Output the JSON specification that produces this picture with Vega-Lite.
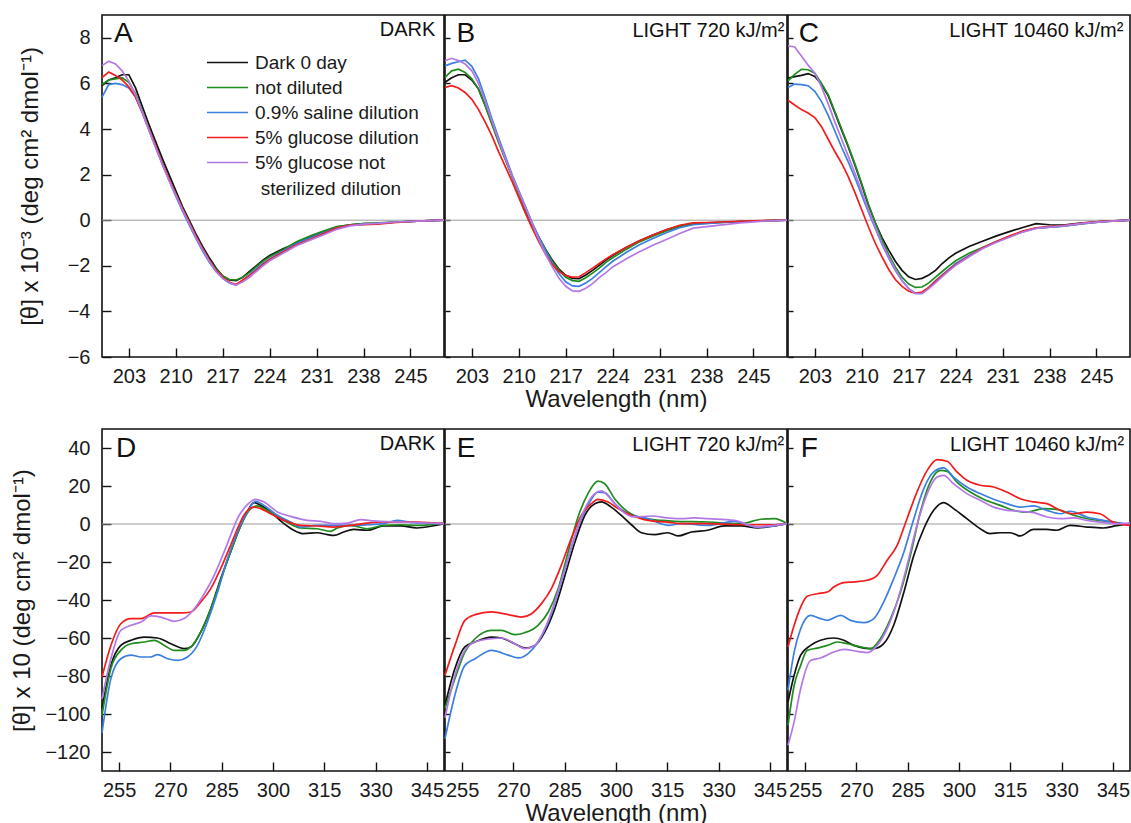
{
"$schema": "https://vega.github.io/schema/vega-lite/v6.json",
"background": "white",
"padding": {"left": 10, "top": 14, "right": 2, "bottom": 0},
"config": {
  "font": "Liberation Sans",
  "view": {"stroke": "#111111", "strokeWidth": 1.6},
  "axis": {"grid": false, "domain": false, "labelFont": "Liberation Sans", "labelFontSize": 20, "labelColor": "#1a1a1a", "tickColor": "#111111", "tickWidth": 1.4, "tickSize": -9, "titleFont": "Liberation Sans", "titleFontSize": 24, "titleFontWeight": "normal", "titleColor": "#1a1a1a", "labelOverlap": false, "labelFlush": false, "labelBound": false},
  "axisX": {"labelPadding": 18, "titlePadding": 1},
  "axisY": {"labelPadding": 21},
  "line": {"strokeWidth": 1.7, "clip": true},
  "text": {"font": "Liberation Sans", "color": "#111111"}
},
"datasets": {
"top": [
{"p":"A","s":"dark","nm":199,"v":5.9},{"p":"A","s":"dark","nm":200,"v":6.15},{"p":"A","s":"dark","nm":201,"v":6.25},{"p":"A","s":"dark","nm":202,"v":6.38},{"p":"A","s":"dark","nm":203,"v":6.38},{"p":"A","s":"dark","nm":204,"v":5.8},{"p":"A","s":"dark","nm":205,"v":5.0},{"p":"A","s":"dark","nm":206,"v":4.2},{"p":"A","s":"dark","nm":207,"v":3.45},{"p":"A","s":"dark","nm":208,"v":2.7},{"p":"A","s":"dark","nm":209,"v":2.0},{"p":"A","s":"dark","nm":210,"v":1.3},{"p":"A","s":"dark","nm":211,"v":0.6},{"p":"A","s":"dark","nm":212,"v":0.0},{"p":"A","s":"dark","nm":213,"v":-0.6},{"p":"A","s":"dark","nm":214,"v":-1.15},{"p":"A","s":"dark","nm":215,"v":-1.65},{"p":"A","s":"dark","nm":216,"v":-2.1},{"p":"A","s":"dark","nm":217,"v":-2.45},{"p":"A","s":"dark","nm":218,"v":-2.62},{"p":"A","s":"dark","nm":219,"v":-2.65},{"p":"A","s":"dark","nm":220,"v":-2.5},{"p":"A","s":"dark","nm":221,"v":-2.25},{"p":"A","s":"dark","nm":222,"v":-2.0},{"p":"A","s":"dark","nm":223,"v":-1.75},{"p":"A","s":"dark","nm":224,"v":-1.55},{"p":"A","s":"dark","nm":226,"v":-1.25},{"p":"A","s":"dark","nm":228,"v":-1.0},{"p":"A","s":"dark","nm":230,"v":-0.75},{"p":"A","s":"dark","nm":232,"v":-0.52},{"p":"A","s":"dark","nm":234,"v":-0.3},{"p":"A","s":"dark","nm":236,"v":-0.2},{"p":"A","s":"dark","nm":238,"v":-0.15},{"p":"A","s":"dark","nm":240,"v":-0.14},{"p":"A","s":"dark","nm":243,"v":-0.08},{"p":"A","s":"dark","nm":246,"v":-0.04},{"p":"A","s":"dark","nm":250,"v":0},
{"p":"A","s":"nd","nm":199,"v":5.95},{"p":"A","s":"nd","nm":200,"v":6.15},{"p":"A","s":"nd","nm":201,"v":6.2},{"p":"A","s":"nd","nm":202,"v":6.25},{"p":"A","s":"nd","nm":203,"v":6.05},{"p":"A","s":"nd","nm":204,"v":5.55},{"p":"A","s":"nd","nm":205,"v":4.8},{"p":"A","s":"nd","nm":206,"v":4.0},{"p":"A","s":"nd","nm":207,"v":3.25},{"p":"A","s":"nd","nm":208,"v":2.5},{"p":"A","s":"nd","nm":209,"v":1.8},{"p":"A","s":"nd","nm":210,"v":1.15},{"p":"A","s":"nd","nm":211,"v":0.5},{"p":"A","s":"nd","nm":212,"v":-0.1},{"p":"A","s":"nd","nm":213,"v":-0.7},{"p":"A","s":"nd","nm":214,"v":-1.25},{"p":"A","s":"nd","nm":215,"v":-1.75},{"p":"A","s":"nd","nm":216,"v":-2.15},{"p":"A","s":"nd","nm":217,"v":-2.45},{"p":"A","s":"nd","nm":218,"v":-2.6},{"p":"A","s":"nd","nm":219,"v":-2.62},{"p":"A","s":"nd","nm":220,"v":-2.5},{"p":"A","s":"nd","nm":221,"v":-2.3},{"p":"A","s":"nd","nm":222,"v":-2.05},{"p":"A","s":"nd","nm":223,"v":-1.8},{"p":"A","s":"nd","nm":224,"v":-1.6},{"p":"A","s":"nd","nm":226,"v":-1.3},{"p":"A","s":"nd","nm":228,"v":-0.95},{"p":"A","s":"nd","nm":230,"v":-0.7},{"p":"A","s":"nd","nm":232,"v":-0.48},{"p":"A","s":"nd","nm":234,"v":-0.28},{"p":"A","s":"nd","nm":236,"v":-0.2},{"p":"A","s":"nd","nm":238,"v":-0.15},{"p":"A","s":"nd","nm":240,"v":-0.12},{"p":"A","s":"nd","nm":243,"v":-0.08},{"p":"A","s":"nd","nm":246,"v":-0.04},{"p":"A","s":"nd","nm":250,"v":0},
{"p":"A","s":"sal","nm":199,"v":5.4},{"p":"A","s":"sal","nm":200,"v":5.95},{"p":"A","s":"sal","nm":201,"v":6.0},{"p":"A","s":"sal","nm":202,"v":5.95},{"p":"A","s":"sal","nm":203,"v":5.8},{"p":"A","s":"sal","nm":204,"v":5.4},{"p":"A","s":"sal","nm":205,"v":4.7},{"p":"A","s":"sal","nm":206,"v":3.95},{"p":"A","s":"sal","nm":207,"v":3.2},{"p":"A","s":"sal","nm":208,"v":2.45},{"p":"A","s":"sal","nm":209,"v":1.75},{"p":"A","s":"sal","nm":210,"v":1.05},{"p":"A","s":"sal","nm":211,"v":0.4},{"p":"A","s":"sal","nm":212,"v":-0.2},{"p":"A","s":"sal","nm":213,"v":-0.8},{"p":"A","s":"sal","nm":214,"v":-1.35},{"p":"A","s":"sal","nm":215,"v":-1.85},{"p":"A","s":"sal","nm":216,"v":-2.25},{"p":"A","s":"sal","nm":217,"v":-2.55},{"p":"A","s":"sal","nm":218,"v":-2.75},{"p":"A","s":"sal","nm":219,"v":-2.85},{"p":"A","s":"sal","nm":220,"v":-2.65},{"p":"A","s":"sal","nm":221,"v":-2.4},{"p":"A","s":"sal","nm":222,"v":-2.15},{"p":"A","s":"sal","nm":223,"v":-1.9},{"p":"A","s":"sal","nm":224,"v":-1.7},{"p":"A","s":"sal","nm":226,"v":-1.35},{"p":"A","s":"sal","nm":228,"v":-1.02},{"p":"A","s":"sal","nm":230,"v":-0.78},{"p":"A","s":"sal","nm":232,"v":-0.55},{"p":"A","s":"sal","nm":234,"v":-0.35},{"p":"A","s":"sal","nm":236,"v":-0.22},{"p":"A","s":"sal","nm":238,"v":-0.18},{"p":"A","s":"sal","nm":240,"v":-0.15},{"p":"A","s":"sal","nm":243,"v":-0.08},{"p":"A","s":"sal","nm":246,"v":-0.04},{"p":"A","s":"sal","nm":250,"v":0},
{"p":"A","s":"glu","nm":199,"v":6.25},{"p":"A","s":"glu","nm":200,"v":6.5},{"p":"A","s":"glu","nm":201,"v":6.35},{"p":"A","s":"glu","nm":202,"v":6.15},{"p":"A","s":"glu","nm":203,"v":5.85},{"p":"A","s":"glu","nm":204,"v":5.4},{"p":"A","s":"glu","nm":205,"v":4.75},{"p":"A","s":"glu","nm":206,"v":4.0},{"p":"A","s":"glu","nm":207,"v":3.25},{"p":"A","s":"glu","nm":208,"v":2.5},{"p":"A","s":"glu","nm":209,"v":1.8},{"p":"A","s":"glu","nm":210,"v":1.15},{"p":"A","s":"glu","nm":211,"v":0.5},{"p":"A","s":"glu","nm":212,"v":-0.1},{"p":"A","s":"glu","nm":213,"v":-0.7},{"p":"A","s":"glu","nm":214,"v":-1.25},{"p":"A","s":"glu","nm":215,"v":-1.75},{"p":"A","s":"glu","nm":216,"v":-2.2},{"p":"A","s":"glu","nm":217,"v":-2.5},{"p":"A","s":"glu","nm":218,"v":-2.72},{"p":"A","s":"glu","nm":219,"v":-2.82},{"p":"A","s":"glu","nm":220,"v":-2.62},{"p":"A","s":"glu","nm":221,"v":-2.42},{"p":"A","s":"glu","nm":222,"v":-2.2},{"p":"A","s":"glu","nm":223,"v":-1.95},{"p":"A","s":"glu","nm":224,"v":-1.72},{"p":"A","s":"glu","nm":226,"v":-1.4},{"p":"A","s":"glu","nm":228,"v":-1.08},{"p":"A","s":"glu","nm":230,"v":-0.85},{"p":"A","s":"glu","nm":232,"v":-0.6},{"p":"A","s":"glu","nm":234,"v":-0.35},{"p":"A","s":"glu","nm":236,"v":-0.22},{"p":"A","s":"glu","nm":238,"v":-0.2},{"p":"A","s":"glu","nm":240,"v":-0.17},{"p":"A","s":"glu","nm":243,"v":-0.1},{"p":"A","s":"glu","nm":246,"v":-0.04},{"p":"A","s":"glu","nm":250,"v":0},
{"p":"A","s":"gns","nm":199,"v":6.78},{"p":"A","s":"gns","nm":200,"v":6.97},{"p":"A","s":"gns","nm":201,"v":6.85},{"p":"A","s":"gns","nm":202,"v":6.55},{"p":"A","s":"gns","nm":203,"v":6.1},{"p":"A","s":"gns","nm":204,"v":5.5},{"p":"A","s":"gns","nm":205,"v":4.75},{"p":"A","s":"gns","nm":206,"v":3.95},{"p":"A","s":"gns","nm":207,"v":3.2},{"p":"A","s":"gns","nm":208,"v":2.45},{"p":"A","s":"gns","nm":209,"v":1.75},{"p":"A","s":"gns","nm":210,"v":1.1},{"p":"A","s":"gns","nm":211,"v":0.45},{"p":"A","s":"gns","nm":212,"v":-0.15},{"p":"A","s":"gns","nm":213,"v":-0.75},{"p":"A","s":"gns","nm":214,"v":-1.3},{"p":"A","s":"gns","nm":215,"v":-1.8},{"p":"A","s":"gns","nm":216,"v":-2.25},{"p":"A","s":"gns","nm":217,"v":-2.55},{"p":"A","s":"gns","nm":218,"v":-2.75},{"p":"A","s":"gns","nm":219,"v":-2.85},{"p":"A","s":"gns","nm":220,"v":-2.7},{"p":"A","s":"gns","nm":221,"v":-2.5},{"p":"A","s":"gns","nm":222,"v":-2.25},{"p":"A","s":"gns","nm":223,"v":-2.0},{"p":"A","s":"gns","nm":224,"v":-1.78},{"p":"A","s":"gns","nm":226,"v":-1.45},{"p":"A","s":"gns","nm":228,"v":-1.12},{"p":"A","s":"gns","nm":230,"v":-0.88},{"p":"A","s":"gns","nm":232,"v":-0.65},{"p":"A","s":"gns","nm":234,"v":-0.4},{"p":"A","s":"gns","nm":236,"v":-0.25},{"p":"A","s":"gns","nm":238,"v":-0.17},{"p":"A","s":"gns","nm":240,"v":-0.14},{"p":"A","s":"gns","nm":243,"v":-0.08},{"p":"A","s":"gns","nm":246,"v":-0.04},{"p":"A","s":"gns","nm":250,"v":0},
{"p":"B","s":"dark","nm":199,"v":6.05},{"p":"B","s":"dark","nm":200,"v":6.25},{"p":"B","s":"dark","nm":201,"v":6.38},{"p":"B","s":"dark","nm":202,"v":6.38},{"p":"B","s":"dark","nm":203,"v":6.15},{"p":"B","s":"dark","nm":204,"v":5.75},{"p":"B","s":"dark","nm":205,"v":5.05},{"p":"B","s":"dark","nm":206,"v":4.25},{"p":"B","s":"dark","nm":207,"v":3.45},{"p":"B","s":"dark","nm":208,"v":2.7},{"p":"B","s":"dark","nm":209,"v":1.95},{"p":"B","s":"dark","nm":210,"v":1.2},{"p":"B","s":"dark","nm":211,"v":0.45},{"p":"B","s":"dark","nm":212,"v":-0.2},{"p":"B","s":"dark","nm":213,"v":-0.75},{"p":"B","s":"dark","nm":214,"v":-1.28},{"p":"B","s":"dark","nm":215,"v":-1.75},{"p":"B","s":"dark","nm":216,"v":-2.15},{"p":"B","s":"dark","nm":217,"v":-2.42},{"p":"B","s":"dark","nm":218,"v":-2.55},{"p":"B","s":"dark","nm":219,"v":-2.56},{"p":"B","s":"dark","nm":220,"v":-2.4},{"p":"B","s":"dark","nm":221,"v":-2.2},{"p":"B","s":"dark","nm":222,"v":-1.98},{"p":"B","s":"dark","nm":223,"v":-1.75},{"p":"B","s":"dark","nm":224,"v":-1.55},{"p":"B","s":"dark","nm":226,"v":-1.2},{"p":"B","s":"dark","nm":228,"v":-0.9},{"p":"B","s":"dark","nm":230,"v":-0.65},{"p":"B","s":"dark","nm":232,"v":-0.42},{"p":"B","s":"dark","nm":234,"v":-0.25},{"p":"B","s":"dark","nm":236,"v":-0.15},{"p":"B","s":"dark","nm":238,"v":-0.12},{"p":"B","s":"dark","nm":240,"v":-0.1},{"p":"B","s":"dark","nm":243,"v":-0.06},{"p":"B","s":"dark","nm":246,"v":-0.03},{"p":"B","s":"dark","nm":250,"v":0},
{"p":"B","s":"nd","nm":199,"v":6.26},{"p":"B","s":"nd","nm":200,"v":6.55},{"p":"B","s":"nd","nm":201,"v":6.62},{"p":"B","s":"nd","nm":202,"v":6.48},{"p":"B","s":"nd","nm":203,"v":6.2},{"p":"B","s":"nd","nm":204,"v":5.75},{"p":"B","s":"nd","nm":205,"v":5.0},{"p":"B","s":"nd","nm":206,"v":4.2},{"p":"B","s":"nd","nm":207,"v":3.4},{"p":"B","s":"nd","nm":208,"v":2.65},{"p":"B","s":"nd","nm":209,"v":1.9},{"p":"B","s":"nd","nm":210,"v":1.2},{"p":"B","s":"nd","nm":211,"v":0.5},{"p":"B","s":"nd","nm":212,"v":-0.15},{"p":"B","s":"nd","nm":213,"v":-0.75},{"p":"B","s":"nd","nm":214,"v":-1.3},{"p":"B","s":"nd","nm":215,"v":-1.8},{"p":"B","s":"nd","nm":216,"v":-2.2},{"p":"B","s":"nd","nm":217,"v":-2.5},{"p":"B","s":"nd","nm":218,"v":-2.65},{"p":"B","s":"nd","nm":219,"v":-2.68},{"p":"B","s":"nd","nm":220,"v":-2.52},{"p":"B","s":"nd","nm":221,"v":-2.32},{"p":"B","s":"nd","nm":222,"v":-2.1},{"p":"B","s":"nd","nm":223,"v":-1.85},{"p":"B","s":"nd","nm":224,"v":-1.65},{"p":"B","s":"nd","nm":226,"v":-1.28},{"p":"B","s":"nd","nm":228,"v":-0.95},{"p":"B","s":"nd","nm":230,"v":-0.7},{"p":"B","s":"nd","nm":232,"v":-0.47},{"p":"B","s":"nd","nm":234,"v":-0.28},{"p":"B","s":"nd","nm":236,"v":-0.17},{"p":"B","s":"nd","nm":238,"v":-0.13},{"p":"B","s":"nd","nm":240,"v":-0.1},{"p":"B","s":"nd","nm":243,"v":-0.06},{"p":"B","s":"nd","nm":246,"v":-0.03},{"p":"B","s":"nd","nm":250,"v":0},
{"p":"B","s":"sal","nm":199,"v":6.77},{"p":"B","s":"sal","nm":200,"v":6.88},{"p":"B","s":"sal","nm":201,"v":6.95},{"p":"B","s":"sal","nm":202,"v":7.02},{"p":"B","s":"sal","nm":203,"v":6.75},{"p":"B","s":"sal","nm":204,"v":6.2},{"p":"B","s":"sal","nm":205,"v":5.35},{"p":"B","s":"sal","nm":206,"v":4.45},{"p":"B","s":"sal","nm":207,"v":3.6},{"p":"B","s":"sal","nm":208,"v":2.8},{"p":"B","s":"sal","nm":209,"v":2.0},{"p":"B","s":"sal","nm":210,"v":1.3},{"p":"B","s":"sal","nm":211,"v":0.6},{"p":"B","s":"sal","nm":212,"v":-0.1},{"p":"B","s":"sal","nm":213,"v":-0.75},{"p":"B","s":"sal","nm":214,"v":-1.35},{"p":"B","s":"sal","nm":215,"v":-1.9},{"p":"B","s":"sal","nm":216,"v":-2.35},{"p":"B","s":"sal","nm":217,"v":-2.7},{"p":"B","s":"sal","nm":218,"v":-2.88},{"p":"B","s":"sal","nm":219,"v":-2.9},{"p":"B","s":"sal","nm":220,"v":-2.75},{"p":"B","s":"sal","nm":221,"v":-2.55},{"p":"B","s":"sal","nm":222,"v":-2.3},{"p":"B","s":"sal","nm":223,"v":-2.05},{"p":"B","s":"sal","nm":224,"v":-1.8},{"p":"B","s":"sal","nm":226,"v":-1.42},{"p":"B","s":"sal","nm":228,"v":-1.08},{"p":"B","s":"sal","nm":230,"v":-0.8},{"p":"B","s":"sal","nm":232,"v":-0.55},{"p":"B","s":"sal","nm":234,"v":-0.33},{"p":"B","s":"sal","nm":236,"v":-0.2},{"p":"B","s":"sal","nm":238,"v":-0.15},{"p":"B","s":"sal","nm":240,"v":-0.1},{"p":"B","s":"sal","nm":243,"v":-0.06},{"p":"B","s":"sal","nm":246,"v":-0.03},{"p":"B","s":"sal","nm":250,"v":0},
{"p":"B","s":"glu","nm":199,"v":5.82},{"p":"B","s":"glu","nm":200,"v":5.9},{"p":"B","s":"glu","nm":201,"v":5.8},{"p":"B","s":"glu","nm":202,"v":5.6},{"p":"B","s":"glu","nm":203,"v":5.3},{"p":"B","s":"glu","nm":204,"v":4.85},{"p":"B","s":"glu","nm":205,"v":4.3},{"p":"B","s":"glu","nm":206,"v":3.7},{"p":"B","s":"glu","nm":207,"v":3.0},{"p":"B","s":"glu","nm":208,"v":2.35},{"p":"B","s":"glu","nm":209,"v":1.7},{"p":"B","s":"glu","nm":210,"v":1.0},{"p":"B","s":"glu","nm":211,"v":0.3},{"p":"B","s":"glu","nm":212,"v":-0.35},{"p":"B","s":"glu","nm":213,"v":-0.95},{"p":"B","s":"glu","nm":214,"v":-1.5},{"p":"B","s":"glu","nm":215,"v":-1.95},{"p":"B","s":"glu","nm":216,"v":-2.25},{"p":"B","s":"glu","nm":217,"v":-2.42},{"p":"B","s":"glu","nm":218,"v":-2.5},{"p":"B","s":"glu","nm":219,"v":-2.48},{"p":"B","s":"glu","nm":220,"v":-2.3},{"p":"B","s":"glu","nm":221,"v":-2.1},{"p":"B","s":"glu","nm":222,"v":-1.9},{"p":"B","s":"glu","nm":223,"v":-1.7},{"p":"B","s":"glu","nm":224,"v":-1.52},{"p":"B","s":"glu","nm":226,"v":-1.2},{"p":"B","s":"glu","nm":228,"v":-0.9},{"p":"B","s":"glu","nm":230,"v":-0.65},{"p":"B","s":"glu","nm":232,"v":-0.42},{"p":"B","s":"glu","nm":234,"v":-0.22},{"p":"B","s":"glu","nm":236,"v":-0.12},{"p":"B","s":"glu","nm":238,"v":-0.1},{"p":"B","s":"glu","nm":240,"v":-0.08},{"p":"B","s":"glu","nm":243,"v":-0.05},{"p":"B","s":"glu","nm":246,"v":-0.02},{"p":"B","s":"glu","nm":250,"v":0},
{"p":"B","s":"gns","nm":199,"v":6.99},{"p":"B","s":"gns","nm":200,"v":7.1},{"p":"B","s":"gns","nm":201,"v":7.0},{"p":"B","s":"gns","nm":202,"v":6.85},{"p":"B","s":"gns","nm":203,"v":6.55},{"p":"B","s":"gns","nm":204,"v":6.0},{"p":"B","s":"gns","nm":205,"v":5.2},{"p":"B","s":"gns","nm":206,"v":4.35},{"p":"B","s":"gns","nm":207,"v":3.5},{"p":"B","s":"gns","nm":208,"v":2.7},{"p":"B","s":"gns","nm":209,"v":1.95},{"p":"B","s":"gns","nm":210,"v":1.25},{"p":"B","s":"gns","nm":211,"v":0.55},{"p":"B","s":"gns","nm":212,"v":-0.15},{"p":"B","s":"gns","nm":213,"v":-0.85},{"p":"B","s":"gns","nm":214,"v":-1.5},{"p":"B","s":"gns","nm":215,"v":-2.05},{"p":"B","s":"gns","nm":216,"v":-2.55},{"p":"B","s":"gns","nm":217,"v":-2.9},{"p":"B","s":"gns","nm":218,"v":-3.1},{"p":"B","s":"gns","nm":219,"v":-3.12},{"p":"B","s":"gns","nm":220,"v":-2.98},{"p":"B","s":"gns","nm":221,"v":-2.78},{"p":"B","s":"gns","nm":222,"v":-2.52},{"p":"B","s":"gns","nm":223,"v":-2.3},{"p":"B","s":"gns","nm":224,"v":-2.05},{"p":"B","s":"gns","nm":226,"v":-1.7},{"p":"B","s":"gns","nm":228,"v":-1.38},{"p":"B","s":"gns","nm":230,"v":-1.1},{"p":"B","s":"gns","nm":232,"v":-0.85},{"p":"B","s":"gns","nm":234,"v":-0.58},{"p":"B","s":"gns","nm":236,"v":-0.35},{"p":"B","s":"gns","nm":238,"v":-0.28},{"p":"B","s":"gns","nm":240,"v":-0.22},{"p":"B","s":"gns","nm":243,"v":-0.12},{"p":"B","s":"gns","nm":246,"v":-0.05},{"p":"B","s":"gns","nm":250,"v":0},
{"p":"C","s":"dark","nm":199,"v":6.23},{"p":"C","s":"dark","nm":200,"v":6.3},{"p":"C","s":"dark","nm":201,"v":6.35},{"p":"C","s":"dark","nm":202,"v":6.43},{"p":"C","s":"dark","nm":203,"v":6.3},{"p":"C","s":"dark","nm":204,"v":5.95},{"p":"C","s":"dark","nm":205,"v":5.45},{"p":"C","s":"dark","nm":206,"v":4.7},{"p":"C","s":"dark","nm":207,"v":3.95},{"p":"C","s":"dark","nm":208,"v":3.2},{"p":"C","s":"dark","nm":209,"v":2.4},{"p":"C","s":"dark","nm":210,"v":1.55},{"p":"C","s":"dark","nm":211,"v":0.65},{"p":"C","s":"dark","nm":212,"v":-0.1},{"p":"C","s":"dark","nm":213,"v":-0.75},{"p":"C","s":"dark","nm":214,"v":-1.3},{"p":"C","s":"dark","nm":215,"v":-1.8},{"p":"C","s":"dark","nm":216,"v":-2.2},{"p":"C","s":"dark","nm":217,"v":-2.48},{"p":"C","s":"dark","nm":218,"v":-2.6},{"p":"C","s":"dark","nm":219,"v":-2.55},{"p":"C","s":"dark","nm":220,"v":-2.4},{"p":"C","s":"dark","nm":221,"v":-2.2},{"p":"C","s":"dark","nm":222,"v":-1.9},{"p":"C","s":"dark","nm":223,"v":-1.65},{"p":"C","s":"dark","nm":224,"v":-1.45},{"p":"C","s":"dark","nm":226,"v":-1.15},{"p":"C","s":"dark","nm":228,"v":-0.92},{"p":"C","s":"dark","nm":230,"v":-0.7},{"p":"C","s":"dark","nm":232,"v":-0.5},{"p":"C","s":"dark","nm":234,"v":-0.32},{"p":"C","s":"dark","nm":236,"v":-0.15},{"p":"C","s":"dark","nm":238,"v":-0.2},{"p":"C","s":"dark","nm":240,"v":-0.22},{"p":"C","s":"dark","nm":243,"v":-0.12},{"p":"C","s":"dark","nm":246,"v":-0.05},{"p":"C","s":"dark","nm":250,"v":0},
{"p":"C","s":"nd","nm":199,"v":6.11},{"p":"C","s":"nd","nm":200,"v":6.4},{"p":"C","s":"nd","nm":201,"v":6.62},{"p":"C","s":"nd","nm":202,"v":6.6},{"p":"C","s":"nd","nm":203,"v":6.45},{"p":"C","s":"nd","nm":204,"v":6.0},{"p":"C","s":"nd","nm":205,"v":5.5},{"p":"C","s":"nd","nm":206,"v":4.75},{"p":"C","s":"nd","nm":207,"v":4.0},{"p":"C","s":"nd","nm":208,"v":3.25},{"p":"C","s":"nd","nm":209,"v":2.45},{"p":"C","s":"nd","nm":210,"v":1.6},{"p":"C","s":"nd","nm":211,"v":0.7},{"p":"C","s":"nd","nm":212,"v":-0.1},{"p":"C","s":"nd","nm":213,"v":-0.85},{"p":"C","s":"nd","nm":214,"v":-1.5},{"p":"C","s":"nd","nm":215,"v":-2.05},{"p":"C","s":"nd","nm":216,"v":-2.5},{"p":"C","s":"nd","nm":217,"v":-2.8},{"p":"C","s":"nd","nm":218,"v":-2.95},{"p":"C","s":"nd","nm":219,"v":-2.93},{"p":"C","s":"nd","nm":220,"v":-2.75},{"p":"C","s":"nd","nm":221,"v":-2.5},{"p":"C","s":"nd","nm":222,"v":-2.25},{"p":"C","s":"nd","nm":223,"v":-2.0},{"p":"C","s":"nd","nm":224,"v":-1.78},{"p":"C","s":"nd","nm":226,"v":-1.45},{"p":"C","s":"nd","nm":228,"v":-1.2},{"p":"C","s":"nd","nm":230,"v":-0.95},{"p":"C","s":"nd","nm":232,"v":-0.72},{"p":"C","s":"nd","nm":234,"v":-0.5},{"p":"C","s":"nd","nm":236,"v":-0.35},{"p":"C","s":"nd","nm":238,"v":-0.3},{"p":"C","s":"nd","nm":240,"v":-0.26},{"p":"C","s":"nd","nm":243,"v":-0.15},{"p":"C","s":"nd","nm":246,"v":-0.06},{"p":"C","s":"nd","nm":250,"v":0},
{"p":"C","s":"sal","nm":199,"v":5.82},{"p":"C","s":"sal","nm":200,"v":5.97},{"p":"C","s":"sal","nm":201,"v":5.95},{"p":"C","s":"sal","nm":202,"v":5.9},{"p":"C","s":"sal","nm":203,"v":5.65},{"p":"C","s":"sal","nm":204,"v":5.2},{"p":"C","s":"sal","nm":205,"v":4.6},{"p":"C","s":"sal","nm":206,"v":3.9},{"p":"C","s":"sal","nm":207,"v":3.2},{"p":"C","s":"sal","nm":208,"v":2.55},{"p":"C","s":"sal","nm":209,"v":1.85},{"p":"C","s":"sal","nm":210,"v":1.1},{"p":"C","s":"sal","nm":211,"v":0.35},{"p":"C","s":"sal","nm":212,"v":-0.35},{"p":"C","s":"sal","nm":213,"v":-1.05},{"p":"C","s":"sal","nm":214,"v":-1.65},{"p":"C","s":"sal","nm":215,"v":-2.2},{"p":"C","s":"sal","nm":216,"v":-2.65},{"p":"C","s":"sal","nm":217,"v":-3.0},{"p":"C","s":"sal","nm":218,"v":-3.2},{"p":"C","s":"sal","nm":219,"v":-3.18},{"p":"C","s":"sal","nm":220,"v":-2.95},{"p":"C","s":"sal","nm":221,"v":-2.65},{"p":"C","s":"sal","nm":222,"v":-2.4},{"p":"C","s":"sal","nm":223,"v":-2.15},{"p":"C","s":"sal","nm":224,"v":-1.9},{"p":"C","s":"sal","nm":226,"v":-1.55},{"p":"C","s":"sal","nm":228,"v":-1.22},{"p":"C","s":"sal","nm":230,"v":-0.95},{"p":"C","s":"sal","nm":232,"v":-0.72},{"p":"C","s":"sal","nm":234,"v":-0.5},{"p":"C","s":"sal","nm":236,"v":-0.35},{"p":"C","s":"sal","nm":238,"v":-0.3},{"p":"C","s":"sal","nm":240,"v":-0.26},{"p":"C","s":"sal","nm":243,"v":-0.15},{"p":"C","s":"sal","nm":246,"v":-0.06},{"p":"C","s":"sal","nm":250,"v":0},
{"p":"C","s":"glu","nm":199,"v":5.26},{"p":"C","s":"glu","nm":200,"v":5.05},{"p":"C","s":"glu","nm":201,"v":4.85},{"p":"C","s":"glu","nm":202,"v":4.7},{"p":"C","s":"glu","nm":203,"v":4.5},{"p":"C","s":"glu","nm":204,"v":4.1},{"p":"C","s":"glu","nm":205,"v":3.55},{"p":"C","s":"glu","nm":206,"v":3.0},{"p":"C","s":"glu","nm":207,"v":2.5},{"p":"C","s":"glu","nm":208,"v":1.9},{"p":"C","s":"glu","nm":209,"v":1.2},{"p":"C","s":"glu","nm":210,"v":0.45},{"p":"C","s":"glu","nm":211,"v":-0.3},{"p":"C","s":"glu","nm":212,"v":-1.0},{"p":"C","s":"glu","nm":213,"v":-1.6},{"p":"C","s":"glu","nm":214,"v":-2.15},{"p":"C","s":"glu","nm":215,"v":-2.6},{"p":"C","s":"glu","nm":216,"v":-2.9},{"p":"C","s":"glu","nm":217,"v":-3.12},{"p":"C","s":"glu","nm":218,"v":-3.2},{"p":"C","s":"glu","nm":219,"v":-3.15},{"p":"C","s":"glu","nm":220,"v":-2.95},{"p":"C","s":"glu","nm":221,"v":-2.68},{"p":"C","s":"glu","nm":222,"v":-2.42},{"p":"C","s":"glu","nm":223,"v":-2.18},{"p":"C","s":"glu","nm":224,"v":-1.95},{"p":"C","s":"glu","nm":226,"v":-1.58},{"p":"C","s":"glu","nm":228,"v":-1.22},{"p":"C","s":"glu","nm":230,"v":-0.95},{"p":"C","s":"glu","nm":232,"v":-0.7},{"p":"C","s":"glu","nm":234,"v":-0.48},{"p":"C","s":"glu","nm":236,"v":-0.33},{"p":"C","s":"glu","nm":238,"v":-0.28},{"p":"C","s":"glu","nm":240,"v":-0.24},{"p":"C","s":"glu","nm":243,"v":-0.13},{"p":"C","s":"glu","nm":246,"v":-0.05},{"p":"C","s":"glu","nm":250,"v":0},
{"p":"C","s":"gns","nm":199,"v":7.65},{"p":"C","s":"gns","nm":200,"v":7.6},{"p":"C","s":"gns","nm":201,"v":7.2},{"p":"C","s":"gns","nm":202,"v":6.8},{"p":"C","s":"gns","nm":203,"v":6.45},{"p":"C","s":"gns","nm":204,"v":5.85},{"p":"C","s":"gns","nm":205,"v":5.1},{"p":"C","s":"gns","nm":206,"v":4.3},{"p":"C","s":"gns","nm":207,"v":3.55},{"p":"C","s":"gns","nm":208,"v":2.8},{"p":"C","s":"gns","nm":209,"v":2.05},{"p":"C","s":"gns","nm":210,"v":1.25},{"p":"C","s":"gns","nm":211,"v":0.45},{"p":"C","s":"gns","nm":212,"v":-0.3},{"p":"C","s":"gns","nm":213,"v":-1.0},{"p":"C","s":"gns","nm":214,"v":-1.6},{"p":"C","s":"gns","nm":215,"v":-2.15},{"p":"C","s":"gns","nm":216,"v":-2.65},{"p":"C","s":"gns","nm":217,"v":-3.0},{"p":"C","s":"gns","nm":218,"v":-3.22},{"p":"C","s":"gns","nm":219,"v":-3.22},{"p":"C","s":"gns","nm":220,"v":-3.0},{"p":"C","s":"gns","nm":221,"v":-2.75},{"p":"C","s":"gns","nm":222,"v":-2.48},{"p":"C","s":"gns","nm":223,"v":-2.22},{"p":"C","s":"gns","nm":224,"v":-1.98},{"p":"C","s":"gns","nm":226,"v":-1.6},{"p":"C","s":"gns","nm":228,"v":-1.25},{"p":"C","s":"gns","nm":230,"v":-0.98},{"p":"C","s":"gns","nm":232,"v":-0.75},{"p":"C","s":"gns","nm":234,"v":-0.52},{"p":"C","s":"gns","nm":236,"v":-0.36},{"p":"C","s":"gns","nm":238,"v":-0.3},{"p":"C","s":"gns","nm":240,"v":-0.25},{"p":"C","s":"gns","nm":243,"v":-0.14},{"p":"C","s":"gns","nm":246,"v":-0.06},{"p":"C","s":"gns","nm":250,"v":0}
],
"bottom": [
{"p":"D","s":"dark","nm":250,"v":-97},{"p":"D","s":"dark","nm":252.6,"v":-74.4},{"p":"D","s":"dark","nm":255.5,"v":-63.9},{"p":"D","s":"dark","nm":258.5,"v":-61.2},{"p":"D","s":"dark","nm":262.4,"v":-59.5},{"p":"D","s":"dark","nm":266.2,"v":-60},{"p":"D","s":"dark","nm":270.1,"v":-63},{"p":"D","s":"dark","nm":274,"v":-65.6},{"p":"D","s":"dark","nm":276,"v":-64.7},{"p":"D","s":"dark","nm":278.9,"v":-56.8},{"p":"D","s":"dark","nm":281.8,"v":-44.6},{"p":"D","s":"dark","nm":284.7,"v":-28.8},{"p":"D","s":"dark","nm":287.6,"v":-14.7},{"p":"D","s":"dark","nm":289.6,"v":-5.1},{"p":"D","s":"dark","nm":291.5,"v":2.8},{"p":"D","s":"dark","nm":294.5,"v":11.2},{"p":"D","s":"dark","nm":296.4,"v":9.8},{"p":"D","s":"dark","nm":299.3,"v":6.3},{"p":"D","s":"dark","nm":303.2,"v":0.2},{"p":"D","s":"dark","nm":306.1,"v":-3.3},{"p":"D","s":"dark","nm":309,"v":-5.1},{"p":"D","s":"dark","nm":312.9,"v":-4.6},{"p":"D","s":"dark","nm":315.9,"v":-5.6},{"p":"D","s":"dark","nm":317.8,"v":-6},{"p":"D","s":"dark","nm":320.7,"v":-4.2},{"p":"D","s":"dark","nm":323.6,"v":-2.8},{"p":"D","s":"dark","nm":327.5,"v":-3.3},{"p":"D","s":"dark","nm":332.4,"v":-1},{"p":"D","s":"dark","nm":337.3,"v":-1},{"p":"D","s":"dark","nm":342.1,"v":-2.1},{"p":"D","s":"dark","nm":347,"v":-0.9},{"p":"D","s":"dark","nm":350,"v":0.2},
{"p":"D","s":"nd","nm":250,"v":-100.7},{"p":"D","s":"nd","nm":252.6,"v":-76},{"p":"D","s":"nd","nm":255.5,"v":-66.5},{"p":"D","s":"nd","nm":258.5,"v":-63},{"p":"D","s":"nd","nm":262.4,"v":-62.1},{"p":"D","s":"nd","nm":265.3,"v":-61.2},{"p":"D","s":"nd","nm":268.2,"v":-63.9},{"p":"D","s":"nd","nm":271.1,"v":-66.5},{"p":"D","s":"nd","nm":274,"v":-66.5},{"p":"D","s":"nd","nm":276,"v":-64.7},{"p":"D","s":"nd","nm":278.9,"v":-56.8},{"p":"D","s":"nd","nm":281.8,"v":-44.6},{"p":"D","s":"nd","nm":284.7,"v":-29.6},{"p":"D","s":"nd","nm":287.6,"v":-14.7},{"p":"D","s":"nd","nm":290.6,"v":-0.7},{"p":"D","s":"nd","nm":293.5,"v":8.1},{"p":"D","s":"nd","nm":295.4,"v":9.5},{"p":"D","s":"nd","nm":298.3,"v":7.2},{"p":"D","s":"nd","nm":303.2,"v":1.9},{"p":"D","s":"nd","nm":308.1,"v":-2.1},{"p":"D","s":"nd","nm":312.9,"v":-2.5},{"p":"D","s":"nd","nm":316.8,"v":-3.9},{"p":"D","s":"nd","nm":318.8,"v":-2.1},{"p":"D","s":"nd","nm":322.7,"v":-0.7},{"p":"D","s":"nd","nm":327.5,"v":-2.5},{"p":"D","s":"nd","nm":332.4,"v":-0.7},{"p":"D","s":"nd","nm":337.3,"v":-0.4},{"p":"D","s":"nd","nm":342.1,"v":-0.7},{"p":"D","s":"nd","nm":350,"v":0.5},
{"p":"D","s":"sal","nm":250,"v":-110},{"p":"D","s":"sal","nm":252.6,"v":-81.4},{"p":"D","s":"sal","nm":255.5,"v":-70.9},{"p":"D","s":"sal","nm":258.5,"v":-69},{"p":"D","s":"sal","nm":261.4,"v":-70},{"p":"D","s":"sal","nm":264.3,"v":-70},{"p":"D","s":"sal","nm":266.2,"v":-68.8},{"p":"D","s":"sal","nm":269.2,"v":-70.9},{"p":"D","s":"sal","nm":272.1,"v":-71.8},{"p":"D","s":"sal","nm":275,"v":-70},{"p":"D","s":"sal","nm":277.9,"v":-63.9},{"p":"D","s":"sal","nm":280.8,"v":-51.6},{"p":"D","s":"sal","nm":283.8,"v":-35.8},{"p":"D","s":"sal","nm":286.7,"v":-18.2},{"p":"D","s":"sal","nm":289.6,"v":-4.2},{"p":"D","s":"sal","nm":292.5,"v":6.3},{"p":"D","s":"sal","nm":294.9,"v":11.9},{"p":"D","s":"sal","nm":297.4,"v":9.8},{"p":"D","s":"sal","nm":301.3,"v":4.6},{"p":"D","s":"sal","nm":305.2,"v":1},{"p":"D","s":"sal","nm":308.1,"v":-1.6},{"p":"D","s":"sal","nm":312.9,"v":-0.7},{"p":"D","s":"sal","nm":317.8,"v":-0.7},{"p":"D","s":"sal","nm":322.7,"v":-0.7},{"p":"D","s":"sal","nm":327.5,"v":-0.4},{"p":"D","s":"sal","nm":332.4,"v":0.2},{"p":"D","s":"sal","nm":336.3,"v":1.9},{"p":"D","s":"sal","nm":340.2,"v":0.9},{"p":"D","s":"sal","nm":350,"v":0.2},
{"p":"D","s":"glu","nm":250,"v":-80.5},{"p":"D","s":"glu","nm":252.6,"v":-63.9},{"p":"D","s":"glu","nm":255.5,"v":-52.5},{"p":"D","s":"glu","nm":258.5,"v":-49.8},{"p":"D","s":"glu","nm":261.4,"v":-49.8},{"p":"D","s":"glu","nm":265.3,"v":-46.8},{"p":"D","s":"glu","nm":269.2,"v":-46.8},{"p":"D","s":"glu","nm":273.1,"v":-46.8},{"p":"D","s":"glu","nm":276,"v":-46.3},{"p":"D","s":"glu","nm":278.9,"v":-41},{"p":"D","s":"glu","nm":281.8,"v":-34},{"p":"D","s":"glu","nm":284.7,"v":-23.5},{"p":"D","s":"glu","nm":287.6,"v":-11.2},{"p":"D","s":"glu","nm":289.6,"v":-2.5},{"p":"D","s":"glu","nm":291.5,"v":4.6},{"p":"D","s":"glu","nm":294.5,"v":8.9},{"p":"D","s":"glu","nm":296.4,"v":8.1},{"p":"D","s":"glu","nm":299.3,"v":5.4},{"p":"D","s":"glu","nm":303.2,"v":1.9},{"p":"D","s":"glu","nm":308.1,"v":-0.7},{"p":"D","s":"glu","nm":312.9,"v":-1.05},{"p":"D","s":"glu","nm":317.8,"v":-1.6},{"p":"D","s":"glu","nm":322.7,"v":-0.7},{"p":"D","s":"glu","nm":327.5,"v":0.5},{"p":"D","s":"glu","nm":332.4,"v":1.05},{"p":"D","s":"glu","nm":342.1,"v":1.05},{"p":"D","s":"glu","nm":350,"v":0.2},
{"p":"D","s":"gns","nm":250,"v":-92},{"p":"D","s":"gns","nm":252.6,"v":-70.9},{"p":"D","s":"gns","nm":255.5,"v":-56},{"p":"D","s":"gns","nm":258.5,"v":-53.3},{"p":"D","s":"gns","nm":261.4,"v":-51.6},{"p":"D","s":"gns","nm":264.3,"v":-48.4},{"p":"D","s":"gns","nm":267.2,"v":-49},{"p":"D","s":"gns","nm":271.1,"v":-51.2},{"p":"D","s":"gns","nm":274,"v":-49.8},{"p":"D","s":"gns","nm":277,"v":-44.6},{"p":"D","s":"gns","nm":279.9,"v":-36.7},{"p":"D","s":"gns","nm":282.8,"v":-27},{"p":"D","s":"gns","nm":285.7,"v":-14.7},{"p":"D","s":"gns","nm":287.6,"v":-6},{"p":"D","s":"gns","nm":289.6,"v":2.8},{"p":"D","s":"gns","nm":292.5,"v":10.2},{"p":"D","s":"gns","nm":294.9,"v":13},{"p":"D","s":"gns","nm":297.4,"v":11.6},{"p":"D","s":"gns","nm":301.3,"v":6.3},{"p":"D","s":"gns","nm":305.2,"v":4},{"p":"D","s":"gns","nm":310,"v":1.9},{"p":"D","s":"gns","nm":313.9,"v":1.4},{"p":"D","s":"gns","nm":317.8,"v":0.2},{"p":"D","s":"gns","nm":321.7,"v":0.5},{"p":"D","s":"gns","nm":325.6,"v":2.3},{"p":"D","s":"gns","nm":329.5,"v":1.6},{"p":"D","s":"gns","nm":337.3,"v":1.05},{"p":"D","s":"gns","nm":350,"v":0.2},
{"p":"E","s":"dark","nm":250,"v":-95.4},{"p":"E","s":"dark","nm":252.9,"v":-76},{"p":"E","s":"dark","nm":255.8,"v":-64.7},{"p":"E","s":"dark","nm":258.8,"v":-62.1},{"p":"E","s":"dark","nm":263.6,"v":-59.5},{"p":"E","s":"dark","nm":266.5,"v":-60},{"p":"E","s":"dark","nm":270.4,"v":-63},{"p":"E","s":"dark","nm":273.3,"v":-65.3},{"p":"E","s":"dark","nm":276.3,"v":-63.9},{"p":"E","s":"dark","nm":279.2,"v":-56.8},{"p":"E","s":"dark","nm":282.1,"v":-44.6},{"p":"E","s":"dark","nm":285.1,"v":-27},{"p":"E","s":"dark","nm":288,"v":-9.5},{"p":"E","s":"dark","nm":290.9,"v":4.6},{"p":"E","s":"dark","nm":293.8,"v":10.7},{"p":"E","s":"dark","nm":295.7,"v":11.6},{"p":"E","s":"dark","nm":298.6,"v":8.9},{"p":"E","s":"dark","nm":301.5,"v":4.6},{"p":"E","s":"dark","nm":304.5,"v":-0.4},{"p":"E","s":"dark","nm":307.4,"v":-4.6},{"p":"E","s":"dark","nm":311.3,"v":-5.6},{"p":"E","s":"dark","nm":315.2,"v":-4.6},{"p":"E","s":"dark","nm":318.1,"v":-6.3},{"p":"E","s":"dark","nm":322,"v":-4.2},{"p":"E","s":"dark","nm":326.8,"v":-3.3},{"p":"E","s":"dark","nm":331.7,"v":-1},{"p":"E","s":"dark","nm":336.6,"v":-1},{"p":"E","s":"dark","nm":341.4,"v":-2.1},{"p":"E","s":"dark","nm":346.3,"v":-1},{"p":"E","s":"dark","nm":350,"v":0.2},
{"p":"E","s":"nd","nm":250,"v":-97},{"p":"E","s":"nd","nm":252.9,"v":-81.4},{"p":"E","s":"nd","nm":255.8,"v":-67.4},{"p":"E","s":"nd","nm":258.8,"v":-60.4},{"p":"E","s":"nd","nm":263.6,"v":-56},{"p":"E","s":"nd","nm":266.5,"v":-56},{"p":"E","s":"nd","nm":270.4,"v":-58.2},{"p":"E","s":"nd","nm":273.3,"v":-57.2},{"p":"E","s":"nd","nm":277.2,"v":-53.3},{"p":"E","s":"nd","nm":280.2,"v":-46.3},{"p":"E","s":"nd","nm":283.1,"v":-34},{"p":"E","s":"nd","nm":286,"v":-14.7},{"p":"E","s":"nd","nm":288.9,"v":3.7},{"p":"E","s":"nd","nm":291.8,"v":16},{"p":"E","s":"nd","nm":294.7,"v":22.6},{"p":"E","s":"nd","nm":296.7,"v":21.2},{"p":"E","s":"nd","nm":299.6,"v":13.3},{"p":"E","s":"nd","nm":303.5,"v":6.3},{"p":"E","s":"nd","nm":308.4,"v":2.8},{"p":"E","s":"nd","nm":313.2,"v":1.9},{"p":"E","s":"nd","nm":317.1,"v":1.4},{"p":"E","s":"nd","nm":326.8,"v":1.05},{"p":"E","s":"nd","nm":336.6,"v":0.2},{"p":"E","s":"nd","nm":342.4,"v":2.5},{"p":"E","s":"nd","nm":346.3,"v":2.8},{"p":"E","s":"nd","nm":350,"v":0.2},
{"p":"E","s":"sal","nm":250,"v":-113},{"p":"E","s":"sal","nm":252.9,"v":-90},{"p":"E","s":"sal","nm":255.8,"v":-74.4},{"p":"E","s":"sal","nm":258.8,"v":-70.9},{"p":"E","s":"sal","nm":263.6,"v":-66.5},{"p":"E","s":"sal","nm":268.5,"v":-69},{"p":"E","s":"sal","nm":271.4,"v":-70.5},{"p":"E","s":"sal","nm":274.3,"v":-68.2},{"p":"E","s":"sal","nm":277.2,"v":-62.1},{"p":"E","s":"sal","nm":280.2,"v":-51.6},{"p":"E","s":"sal","nm":283.1,"v":-35.8},{"p":"E","s":"sal","nm":286,"v":-18.2},{"p":"E","s":"sal","nm":288.9,"v":-1.6},{"p":"E","s":"sal","nm":291.8,"v":9.8},{"p":"E","s":"sal","nm":294.7,"v":16.8},{"p":"E","s":"sal","nm":296.7,"v":16.5},{"p":"E","s":"sal","nm":299.6,"v":10.7},{"p":"E","s":"sal","nm":303.5,"v":5.4},{"p":"E","s":"sal","nm":309.3,"v":2.8},{"p":"E","s":"sal","nm":315.2,"v":-0.7},{"p":"E","s":"sal","nm":319,"v":0.2},{"p":"E","s":"sal","nm":326.8,"v":-0.7},{"p":"E","s":"sal","nm":334.6,"v":1.4},{"p":"E","s":"sal","nm":341.4,"v":-1.6},{"p":"E","s":"sal","nm":350,"v":0.2},
{"p":"E","s":"glu","nm":250,"v":-79.6},{"p":"E","s":"glu","nm":252.9,"v":-63.9},{"p":"E","s":"glu","nm":255.8,"v":-50.7},{"p":"E","s":"glu","nm":258.8,"v":-47.7},{"p":"E","s":"glu","nm":263.6,"v":-46.3},{"p":"E","s":"glu","nm":268.5,"v":-47.7},{"p":"E","s":"glu","nm":272.4,"v":-49},{"p":"E","s":"glu","nm":275.3,"v":-47.2},{"p":"E","s":"glu","nm":278.2,"v":-41.9},{"p":"E","s":"glu","nm":281.1,"v":-34},{"p":"E","s":"glu","nm":284,"v":-21.8},{"p":"E","s":"glu","nm":286.9,"v":-7.7},{"p":"E","s":"glu","nm":289.9,"v":4.6},{"p":"E","s":"glu","nm":292.8,"v":10.7},{"p":"E","s":"glu","nm":294.7,"v":13},{"p":"E","s":"glu","nm":297.7,"v":11.6},{"p":"E","s":"glu","nm":300.6,"v":8.1},{"p":"E","s":"glu","nm":304.5,"v":4.6},{"p":"E","s":"glu","nm":309.3,"v":1.9},{"p":"E","s":"glu","nm":315.2,"v":1},{"p":"E","s":"glu","nm":319,"v":0.2},{"p":"E","s":"glu","nm":326.8,"v":0.2},{"p":"E","s":"glu","nm":336.6,"v":-0.4},{"p":"E","s":"glu","nm":346.3,"v":-0.4},{"p":"E","s":"glu","nm":350,"v":0.2},
{"p":"E","s":"gns","nm":250,"v":-102},{"p":"E","s":"gns","nm":252.9,"v":-79.6},{"p":"E","s":"gns","nm":255.8,"v":-66.5},{"p":"E","s":"gns","nm":258.8,"v":-62.1},{"p":"E","s":"gns","nm":263.6,"v":-60.4},{"p":"E","s":"gns","nm":266.5,"v":-60},{"p":"E","s":"gns","nm":270.4,"v":-63},{"p":"E","s":"gns","nm":273.3,"v":-65.6},{"p":"E","s":"gns","nm":276.3,"v":-63.9},{"p":"E","s":"gns","nm":279.2,"v":-55.1},{"p":"E","s":"gns","nm":282.1,"v":-41},{"p":"E","s":"gns","nm":285.1,"v":-23.5},{"p":"E","s":"gns","nm":288,"v":-6},{"p":"E","s":"gns","nm":290.9,"v":8.1},{"p":"E","s":"gns","nm":293.8,"v":16},{"p":"E","s":"gns","nm":295.7,"v":17.4},{"p":"E","s":"gns","nm":298.6,"v":13},{"p":"E","s":"gns","nm":301.5,"v":7.2},{"p":"E","s":"gns","nm":305.4,"v":3.7},{"p":"E","s":"gns","nm":310.3,"v":4.2},{"p":"E","s":"gns","nm":315.2,"v":3.2},{"p":"E","s":"gns","nm":319,"v":2.8},{"p":"E","s":"gns","nm":322.9,"v":3.2},{"p":"E","s":"gns","nm":326.8,"v":2.8},{"p":"E","s":"gns","nm":334.6,"v":1.9},{"p":"E","s":"gns","nm":341.4,"v":-1.6},{"p":"E","s":"gns","nm":346.3,"v":-0.7},{"p":"E","s":"gns","nm":350,"v":0.2},
{"p":"F","s":"dark","nm":250,"v":-93.7},{"p":"F","s":"dark","nm":251.8,"v":-79.6},{"p":"F","s":"dark","nm":253.7,"v":-69},{"p":"F","s":"dark","nm":256.6,"v":-63.9},{"p":"F","s":"dark","nm":259.5,"v":-61.2},{"p":"F","s":"dark","nm":263.4,"v":-60},{"p":"F","s":"dark","nm":266.3,"v":-61.2},{"p":"F","s":"dark","nm":269.3,"v":-63.9},{"p":"F","s":"dark","nm":272.2,"v":-65.3},{"p":"F","s":"dark","nm":275.1,"v":-65.6},{"p":"F","s":"dark","nm":278,"v":-63},{"p":"F","s":"dark","nm":280.9,"v":-53.3},{"p":"F","s":"dark","nm":283.9,"v":-35.8},{"p":"F","s":"dark","nm":286.8,"v":-16.5},{"p":"F","s":"dark","nm":289.7,"v":-2.5},{"p":"F","s":"dark","nm":292.6,"v":7.2},{"p":"F","s":"dark","nm":295.5,"v":11.2},{"p":"F","s":"dark","nm":298.4,"v":8.1},{"p":"F","s":"dark","nm":302.3,"v":2.8},{"p":"F","s":"dark","nm":306.2,"v":-2.5},{"p":"F","s":"dark","nm":309.1,"v":-5.1},{"p":"F","s":"dark","nm":312.1,"v":-4.6},{"p":"F","s":"dark","nm":315,"v":-4.6},{"p":"F","s":"dark","nm":317.9,"v":-6.3},{"p":"F","s":"dark","nm":321.8,"v":-2.8},{"p":"F","s":"dark","nm":325.7,"v":-2.8},{"p":"F","s":"dark","nm":328.6,"v":-3.3},{"p":"F","s":"dark","nm":332.5,"v":-0.7},{"p":"F","s":"dark","nm":337.4,"v":-1.6},{"p":"F","s":"dark","nm":342.2,"v":-2.1},{"p":"F","s":"dark","nm":346.1,"v":-0.9},{"p":"F","s":"dark","nm":350,"v":0.2},
{"p":"F","s":"nd","nm":250,"v":-106},{"p":"F","s":"nd","nm":251.8,"v":-85},{"p":"F","s":"nd","nm":253.7,"v":-74.4},{"p":"F","s":"nd","nm":255.6,"v":-66.5},{"p":"F","s":"nd","nm":258.6,"v":-65.3},{"p":"F","s":"nd","nm":261.5,"v":-63.9},{"p":"F","s":"nd","nm":264.4,"v":-62.1},{"p":"F","s":"nd","nm":267.3,"v":-63},{"p":"F","s":"nd","nm":271.2,"v":-64.7},{"p":"F","s":"nd","nm":274.1,"v":-65.6},{"p":"F","s":"nd","nm":277,"v":-60.4},{"p":"F","s":"nd","nm":280,"v":-49.8},{"p":"F","s":"nd","nm":282.9,"v":-35.8},{"p":"F","s":"nd","nm":285.8,"v":-16.5},{"p":"F","s":"nd","nm":288.7,"v":6.3},{"p":"F","s":"nd","nm":291.6,"v":22.1},{"p":"F","s":"nd","nm":294.6,"v":28.2},{"p":"F","s":"nd","nm":296.5,"v":27.7},{"p":"F","s":"nd","nm":299.4,"v":22.1},{"p":"F","s":"nd","nm":303.3,"v":16.8},{"p":"F","s":"nd","nm":307.2,"v":13},{"p":"F","s":"nd","nm":312.1,"v":9.8},{"p":"F","s":"nd","nm":316,"v":7.2},{"p":"F","s":"nd","nm":319.8,"v":6.3},{"p":"F","s":"nd","nm":324.7,"v":8.1},{"p":"F","s":"nd","nm":328.6,"v":7.7},{"p":"F","s":"nd","nm":333.5,"v":4.6},{"p":"F","s":"nd","nm":338.3,"v":2.5},{"p":"F","s":"nd","nm":343.2,"v":1.4},{"p":"F","s":"nd","nm":350,"v":-0.4},
{"p":"F","s":"sal","nm":250,"v":-87.5},{"p":"F","s":"sal","nm":251.8,"v":-67.4},{"p":"F","s":"sal","nm":253.7,"v":-55.1},{"p":"F","s":"sal","nm":256.6,"v":-48.1},{"p":"F","s":"sal","nm":259.5,"v":-49.8},{"p":"F","s":"sal","nm":261.5,"v":-50.7},{"p":"F","s":"sal","nm":265.4,"v":-48.1},{"p":"F","s":"sal","nm":268.3,"v":-50.7},{"p":"F","s":"sal","nm":272.2,"v":-51.9},{"p":"F","s":"sal","nm":275.1,"v":-49.8},{"p":"F","s":"sal","nm":278,"v":-41},{"p":"F","s":"sal","nm":280.9,"v":-28.8},{"p":"F","s":"sal","nm":283.9,"v":-14.7},{"p":"F","s":"sal","nm":286.8,"v":2.8},{"p":"F","s":"sal","nm":289.7,"v":18.6},{"p":"F","s":"sal","nm":292.6,"v":27.4},{"p":"F","s":"sal","nm":295.5,"v":29.5},{"p":"F","s":"sal","nm":298.4,"v":24.7},{"p":"F","s":"sal","nm":302.3,"v":19.5},{"p":"F","s":"sal","nm":306.2,"v":16},{"p":"F","s":"sal","nm":310.1,"v":13},{"p":"F","s":"sal","nm":314,"v":10.7},{"p":"F","s":"sal","nm":317.9,"v":8.9},{"p":"F","s":"sal","nm":321.8,"v":9.5},{"p":"F","s":"sal","nm":325.7,"v":7.2},{"p":"F","s":"sal","nm":329.6,"v":5.4},{"p":"F","s":"sal","nm":332.5,"v":6.7},{"p":"F","s":"sal","nm":337.4,"v":3.7},{"p":"F","s":"sal","nm":342.2,"v":1.9},{"p":"F","s":"sal","nm":345.1,"v":1},{"p":"F","s":"sal","nm":350,"v":-0.4},
{"p":"F","s":"glu","nm":250,"v":-64.7},{"p":"F","s":"glu","nm":251.8,"v":-53.3},{"p":"F","s":"glu","nm":253.7,"v":-43.7},{"p":"F","s":"glu","nm":255.6,"v":-38},{"p":"F","s":"glu","nm":258.6,"v":-36.7},{"p":"F","s":"glu","nm":261.5,"v":-35.8},{"p":"F","s":"glu","nm":263.4,"v":-33.2},{"p":"F","s":"glu","nm":266.3,"v":-30.9},{"p":"F","s":"glu","nm":269.3,"v":-30.5},{"p":"F","s":"glu","nm":273.2,"v":-29.6},{"p":"F","s":"glu","nm":276.1,"v":-27},{"p":"F","s":"glu","nm":279,"v":-19.1},{"p":"F","s":"glu","nm":281.9,"v":-11.2},{"p":"F","s":"glu","nm":284.8,"v":2.8},{"p":"F","s":"glu","nm":287.7,"v":16.8},{"p":"F","s":"glu","nm":290.7,"v":28.2},{"p":"F","s":"glu","nm":293.6,"v":33.9},{"p":"F","s":"glu","nm":296.5,"v":33},{"p":"F","s":"glu","nm":299.4,"v":27.4},{"p":"F","s":"glu","nm":302.3,"v":23},{"p":"F","s":"glu","nm":306.2,"v":20.4},{"p":"F","s":"glu","nm":310.1,"v":19.5},{"p":"F","s":"glu","nm":314,"v":16.8},{"p":"F","s":"glu","nm":317.9,"v":13.3},{"p":"F","s":"glu","nm":321.8,"v":11.6},{"p":"F","s":"glu","nm":325.7,"v":10.7},{"p":"F","s":"glu","nm":329.6,"v":7.2},{"p":"F","s":"glu","nm":333.5,"v":5.4},{"p":"F","s":"glu","nm":337.4,"v":6.3},{"p":"F","s":"glu","nm":341.2,"v":5.4},{"p":"F","s":"glu","nm":345.1,"v":1},{"p":"F","s":"glu","nm":350,"v":-0.7},
{"p":"F","s":"gns","nm":250,"v":-116.5},{"p":"F","s":"gns","nm":251.8,"v":-104},{"p":"F","s":"gns","nm":253.7,"v":-86.7},{"p":"F","s":"gns","nm":256.6,"v":-71.8},{"p":"F","s":"gns","nm":259.5,"v":-70.5},{"p":"F","s":"gns","nm":263.4,"v":-67.4},{"p":"F","s":"gns","nm":266.3,"v":-66},{"p":"F","s":"gns","nm":270.2,"v":-67},{"p":"F","s":"gns","nm":273.2,"v":-67.7},{"p":"F","s":"gns","nm":276.1,"v":-63.9},{"p":"F","s":"gns","nm":279,"v":-55.1},{"p":"F","s":"gns","nm":281.9,"v":-41},{"p":"F","s":"gns","nm":284.8,"v":-21.8},{"p":"F","s":"gns","nm":287.7,"v":-0.7},{"p":"F","s":"gns","nm":290.7,"v":16},{"p":"F","s":"gns","nm":293.6,"v":24.7},{"p":"F","s":"gns","nm":295.5,"v":25.6},{"p":"F","s":"gns","nm":298.4,"v":21.2},{"p":"F","s":"gns","nm":302.3,"v":16},{"p":"F","s":"gns","nm":306.2,"v":12.5},{"p":"F","s":"gns","nm":310.1,"v":8.9},{"p":"F","s":"gns","nm":314,"v":7.2},{"p":"F","s":"gns","nm":317.9,"v":6.7},{"p":"F","s":"gns","nm":321.8,"v":6},{"p":"F","s":"gns","nm":325.7,"v":3.7},{"p":"F","s":"gns","nm":329.6,"v":2.8},{"p":"F","s":"gns","nm":333.5,"v":3.2},{"p":"F","s":"gns","nm":337.4,"v":1.9},{"p":"F","s":"gns","nm":341.2,"v":1},{"p":"F","s":"gns","nm":345.1,"v":0.2},{"p":"F","s":"gns","nm":350,"v":0.5}
]
},
"spacing": 16,
"bounds": "full",
"resolve": {"scale": {"color": "independent"}, "legend": {"color": "independent"}},
"vconcat": [
{
"spacing": 1,
"bounds": "flush",
"resolve": {"scale": {"color": "independent"}, "legend": {"color": "independent"}},
"hconcat": [
{
"width": 342, "height": 342,
"layer": [
{"data": {"values": [{"z": 0}]}, "mark": {"type": "rule", "color": "#9a9a9a", "strokeWidth": 1}, "encoding": {"y": {"field": "z", "type": "quantitative", "scale": {"domain": [-6, 9], "nice": false, "zero": false}}}},
{"data": {"name": "top"}, "transform": [{"filter": "datum.p === 'A'"}], "mark": {"type": "line"},
 "encoding": {
  "x": {"field": "nm", "type": "quantitative", "scale": {"domain": [199, 250], "nice": false, "zero": false}, "axis": {"values": [203,210,217,224,231,238,245], "title": null}},
  "y": {"field": "v", "type": "quantitative", "scale": {"domain": [-6, 9], "nice": false, "zero": false}, "axis": {"values": [-6,-4,-2,0,2,4,6,8], "title": "[θ] x 10⁻³ (deg cm² dmol⁻¹)", "titlePadding": 25}},
  "color": {"field": "s", "type": "nominal", "scale": {"domain": ["dark","nd","sal","glu","gns"], "range": ["#111111","#1f8c1f","#3b7fe0","#f21c1c","#b478e6"]},
   "legend": {"orient": "none", "legendX": 114, "legendY": 36, "title": null, "symbolType": "M-2,0H2", "symbolSize": 420, "symbolStrokeWidth": 1.8, "labelFont": "Liberation Sans", "labelFontSize": 19, "labelColor": "#1a1a1a", "labelOffset": 16, "rowPadding": 3, "labelLimit": 400,
    "labelExpr": "datum.label === 'dark' ? 'Dark 0 day' : datum.label === 'nd' ? 'not diluted' : datum.label === 'sal' ? '0.9% saline dilution' : datum.label === 'glu' ? '5% glucose dilution' : '5% glucose not'"}}
 }},
{"data": {"values": [{"t": "sterilized dilution"}]}, "mark": {"type": "text", "fontSize": 19, "align": "left", "baseline": "middle", "color": "#1a1a1a"}, "encoding": {"text": {"field": "t"}, "x": {"datum": 222.66}, "y": {"datum": 1.36}}},
{"data": {"values": [{"t": "A"}]}, "mark": {"type": "text", "fontSize": 28, "align": "left", "baseline": "alphabetic"}, "encoding": {"text": {"field": "t"}, "x": {"datum": 200.8}, "y": {"datum": 7.8}}},
{"data": {"values": [{"t": "DARK"}]}, "mark": {"type": "text", "fontSize": 20, "align": "right", "baseline": "alphabetic"}, "encoding": {"text": {"field": "t"}, "x": {"datum": 248.7}, "y": {"datum": 8.08}}}
]
},
{
"width": 342, "height": 342,
"layer": [
{"data": {"values": [{"z": 0}]}, "mark": {"type": "rule", "color": "#9a9a9a", "strokeWidth": 1}, "encoding": {"y": {"field": "z", "type": "quantitative", "scale": {"domain": [-6, 9], "nice": false, "zero": false}}}},
{"data": {"name": "top"}, "transform": [{"filter": "datum.p === 'B'"}], "mark": {"type": "line"},
 "encoding": {
  "x": {"field": "nm", "type": "quantitative", "scale": {"domain": [199, 250], "nice": false, "zero": false}, "axis": {"values": [203,210,217,224,231,238,245], "title": "Wavelength (nm)"}},
  "y": {"field": "v", "type": "quantitative", "scale": {"domain": [-6, 9], "nice": false, "zero": false}, "axis": {"values": [-6,-4,-2,0,2,4,6,8], "title": null, "labels": false, "tickSize": -5}},
  "color": {"field": "s", "type": "nominal", "scale": {"domain": ["dark","nd","sal","glu","gns"], "range": ["#111111","#1f8c1f","#3b7fe0","#f21c1c","#b478e6"]}, "legend": null}
 }},
{"data": {"values": [{"t": "B"}]}, "mark": {"type": "text", "fontSize": 28, "align": "left", "baseline": "alphabetic"}, "encoding": {"text": {"field": "t"}, "x": {"datum": 200.7}, "y": {"datum": 7.8}}},
{"data": {"values": [{"t": "LIGHT 720 kJ/m²"}]}, "mark": {"type": "text", "fontSize": 20, "align": "right", "baseline": "alphabetic"}, "encoding": {"text": {"field": "t"}, "x": {"datum": 249.6}, "y": {"datum": 8.04}}}
]
},
{
"width": 342, "height": 342,
"layer": [
{"data": {"values": [{"z": 0}]}, "mark": {"type": "rule", "color": "#9a9a9a", "strokeWidth": 1}, "encoding": {"y": {"field": "z", "type": "quantitative", "scale": {"domain": [-6, 9], "nice": false, "zero": false}}}},
{"data": {"name": "top"}, "transform": [{"filter": "datum.p === 'C'"}], "mark": {"type": "line"},
 "encoding": {
  "x": {"field": "nm", "type": "quantitative", "scale": {"domain": [199, 250], "nice": false, "zero": false}, "axis": {"values": [203,210,217,224,231,238,245], "title": null}},
  "y": {"field": "v", "type": "quantitative", "scale": {"domain": [-6, 9], "nice": false, "zero": false}, "axis": {"values": [-6,-4,-2,0,2,4,6,8], "title": null, "labels": false, "tickSize": -5}},
  "color": {"field": "s", "type": "nominal", "scale": {"domain": ["dark","nd","sal","glu","gns"], "range": ["#111111","#1f8c1f","#3b7fe0","#f21c1c","#b478e6"]}, "legend": null}
 }},
{"data": {"values": [{"t": "C"}]}, "mark": {"type": "text", "fontSize": 28, "align": "left", "baseline": "alphabetic"}, "encoding": {"text": {"field": "t"}, "x": {"datum": 200.6}, "y": {"datum": 7.8}}},
{"data": {"values": [{"t": "LIGHT 10460 kJ/m²"}]}, "mark": {"type": "text", "fontSize": 20, "align": "right", "baseline": "alphabetic"}, "encoding": {"text": {"field": "t"}, "x": {"datum": 249.0}, "y": {"datum": 8.04}}}
]
}
]
},
{
"spacing": 1,
"bounds": "flush",
"resolve": {"scale": {"color": "independent"}, "legend": {"color": "independent"}},
"hconcat": [
{
"width": 342, "height": 342,
"layer": [
{"data": {"values": [{"z": 0}]}, "mark": {"type": "rule", "color": "#9a9a9a", "strokeWidth": 1}, "encoding": {"y": {"field": "z", "type": "quantitative", "scale": {"domain": [-130, 50], "nice": false, "zero": false}}}},
{"data": {"name": "bottom"}, "transform": [{"filter": "datum.p === 'D'"}], "mark": {"type": "line", "interpolate": "monotone"},
 "encoding": {
  "x": {"field": "nm", "type": "quantitative", "scale": {"domain": [250, 350], "nice": false, "zero": false}, "axis": {"values": [255,270,285,300,315,330,345], "title": null}},
  "y": {"field": "v", "type": "quantitative", "scale": {"domain": [-130, 50], "nice": false, "zero": false}, "axis": {"values": [-120,-100,-80,-60,-40,-20,0,20,40], "title": "[θ] x 10 (deg cm² dmol⁻¹)", "titlePadding": 10}},
  "color": {"field": "s", "type": "nominal", "scale": {"domain": ["dark","nd","sal","glu","gns"], "range": ["#111111","#1f8c1f","#3b7fe0","#f21c1c","#b478e6"]}, "legend": null}
 }},
{"data": {"values": [{"t": "D"}]}, "mark": {"type": "text", "fontSize": 28, "align": "left", "baseline": "alphabetic"}, "encoding": {"text": {"field": "t"}, "x": {"datum": 254.1}, "y": {"datum": 35.3}}},
{"data": {"values": [{"t": "DARK"}]}, "mark": {"type": "text", "fontSize": 20, "align": "right", "baseline": "alphabetic"}, "encoding": {"text": {"field": "t"}, "x": {"datum": 347.5}, "y": {"datum": 38.8}}}
]
},
{
"width": 342, "height": 342,
"layer": [
{"data": {"values": [{"z": 0}]}, "mark": {"type": "rule", "color": "#9a9a9a", "strokeWidth": 1}, "encoding": {"y": {"field": "z", "type": "quantitative", "scale": {"domain": [-130, 50], "nice": false, "zero": false}}}},
{"data": {"name": "bottom"}, "transform": [{"filter": "datum.p === 'E'"}], "mark": {"type": "line", "interpolate": "monotone"},
 "encoding": {
  "x": {"field": "nm", "type": "quantitative", "scale": {"domain": [250, 350], "nice": false, "zero": false}, "axis": {"values": [255,270,285,300,315,330,345], "title": "Wavelength (nm)"}},
  "y": {"field": "v", "type": "quantitative", "scale": {"domain": [-130, 50], "nice": false, "zero": false}, "axis": {"values": [-120,-100,-80,-60,-40,-20,0,20,40], "title": null, "labels": false, "tickSize": -5}},
  "color": {"field": "s", "type": "nominal", "scale": {"domain": ["dark","nd","sal","glu","gns"], "range": ["#111111","#1f8c1f","#3b7fe0","#f21c1c","#b478e6"]}, "legend": null}
 }},
{"data": {"values": [{"t": "E"}]}, "mark": {"type": "text", "fontSize": 28, "align": "left", "baseline": "alphabetic"}, "encoding": {"text": {"field": "t"}, "x": {"datum": 253.4}, "y": {"datum": 35.3}}},
{"data": {"values": [{"t": "LIGHT 720 kJ/m²"}]}, "mark": {"type": "text", "fontSize": 20, "align": "right", "baseline": "alphabetic"}, "encoding": {"text": {"field": "t"}, "x": {"datum": 349.2}, "y": {"datum": 38.3}}}
]
},
{
"width": 342, "height": 342,
"layer": [
{"data": {"values": [{"z": 0}]}, "mark": {"type": "rule", "color": "#9a9a9a", "strokeWidth": 1}, "encoding": {"y": {"field": "z", "type": "quantitative", "scale": {"domain": [-130, 50], "nice": false, "zero": false}}}},
{"data": {"name": "bottom"}, "transform": [{"filter": "datum.p === 'F'"}], "mark": {"type": "line", "interpolate": "monotone"},
 "encoding": {
  "x": {"field": "nm", "type": "quantitative", "scale": {"domain": [250, 350], "nice": false, "zero": false}, "axis": {"values": [255,270,285,300,315,330,345], "title": null}},
  "y": {"field": "v", "type": "quantitative", "scale": {"domain": [-130, 50], "nice": false, "zero": false}, "axis": {"values": [-120,-100,-80,-60,-40,-20,0,20,40], "title": null, "labels": false, "tickSize": -5}},
  "color": {"field": "s", "type": "nominal", "scale": {"domain": ["dark","nd","sal","glu","gns"], "range": ["#111111","#1f8c1f","#3b7fe0","#f21c1c","#b478e6"]}, "legend": null}
 }},
{"data": {"values": [{"t": "F"}]}, "mark": {"type": "text", "fontSize": 28, "align": "left", "baseline": "alphabetic"}, "encoding": {"text": {"field": "t"}, "x": {"datum": 253.7}, "y": {"datum": 35.3}}},
{"data": {"values": [{"t": "LIGHT 10460 kJ/m²"}]}, "mark": {"type": "text", "fontSize": 20, "align": "right", "baseline": "alphabetic"}, "encoding": {"text": {"field": "t"}, "x": {"datum": 348.3}, "y": {"datum": 38.3}}}
]
}
]
}
]
}
